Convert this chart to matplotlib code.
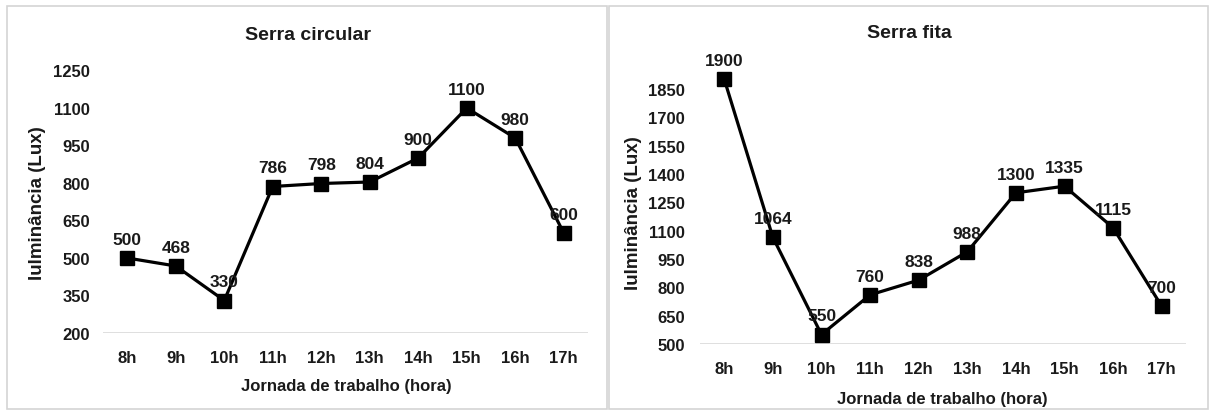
import matplotlib.pyplot as plt
from matplotlib.patches import Rectangle

plt.rcParams['font.family'] = ['Liberation Sans', 'DejaVu Sans']
plt.rcParams['font.weight'] = 'bold'

# Dados de iluminância por hora
horas = ['8h', '9h', '10h', '11h', '12h', '13h', '14h', '15h', '16h', '17h']
serra_circular = [500, 468, 330, 786, 798, 804, 900, 1100, 980, 600]
serra_fita = [1900, 1064, 550, 760, 838, 988, 1300, 1335, 1115, 700]

ticks_circular = [200, 350, 500, 650, 800, 950, 1100, 1250]
ticks_fita = [500, 650, 800, 950, 1100, 1250, 1400, 1550, 1700, 1850]

W, H = 1214, 414
TXT = '#1a1a1a'
fig = plt.figure(figsize=(W / 100, H / 100), dpi=100)

# molduras cinza de cada gráfico
for x0, x1 in [(7, 607), (609, 1208)]:
    fig.patches.append(Rectangle((x0 / W, 1 - 410 / H), (x1 - x0) / W, 403 / H,
                                 transform=fig.transFigure, fill=False,
                                 edgecolor='#d4d4d4', linewidth=1.2))


def px(x, y):
    return x / W, 1 - y / H


def grafico(ax, valores, ticks, ylim, ypad, titulo, pos_titulo, pos_ylabel, pos_xlabel):
    x = range(len(horas))
    ax.plot(x, valores, color='black', linewidth=2.3, marker='s',
            markersize=9.5, clip_on=False, zorder=3)
    for xi, v in zip(x, valores):
        ax.annotate(str(v), (xi, v), xytext=(0, 8), textcoords='offset points',
                    ha='center', va='bottom', fontsize=12.5, fontweight='bold',
                    color=TXT, zorder=4)
    ax.set_xlim(-0.5, len(horas) - 0.5)
    ax.set_ylim(*ylim)
    ax.set_yticks(ticks)
    ax.set_xticks(list(x))
    ax.set_xticklabels(horas)
    ax.tick_params(length=0, labelsize=12, colors=TXT, pad=12)
    ax.tick_params(axis='y', pad=ypad)
    for s in ax.spines.values():
        s.set_visible(False)
    ax.axhline(ylim[0], color='#d9d9d9', linewidth=1.2, zorder=1)
    fig.text(*px(*pos_titulo), titulo, fontsize=14, fontweight='bold',
             color=TXT, ha='center', va='center')
    fig.text(*px(*pos_ylabel), 'Iulminância (Lux)', fontsize=13.5,
             fontweight='bold', color=TXT, ha='center', va='center', rotation=90)
    fig.text(*px(*pos_xlabel), 'Jornada de trabalho (hora)', fontsize=12,
             fontweight='bold', color=TXT, ha='center', va='center')


ax1 = fig.add_axes([103 / W, 1 - 334 / H, 485 / W, 262.5 / H])
grafico(ax1, serra_circular, ticks_circular, (200, 1250), 9.5, 'Serra circular',
        (308, 35), (38, 203), (346, 387))

ax2 = fig.add_axes([700 / W, 1 - 345 / H, 486 / W, 264.6 / H])
grafico(ax2, serra_fita, ticks_fita, (500, 1900), 11, 'Serra fita',
        (909, 34), (634, 213), (942, 400))

fig.savefig('out.png', dpi=100, facecolor='white')
